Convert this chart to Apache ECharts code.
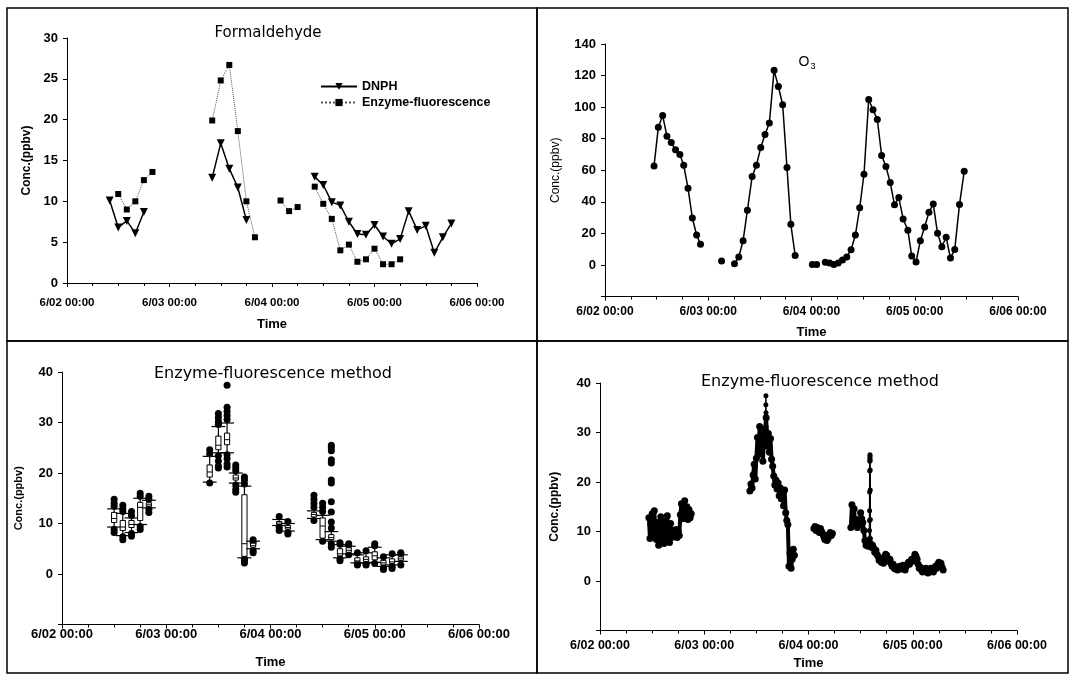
<!DOCTYPE html>
<html>
<head>
<meta charset="utf-8">
<title>Formaldehyde / O3</title>
<script src="https://cdn.jsdelivr.net/npm/echarts@6/dist/echarts.min.js"></script>
<style>
  html, body { margin: 0; padding: 0; background: #fff; }
  #chart { width: 1074px; height: 675px; }
</style>
</head>
<body>
<div id="chart"></div>
<script>
// all x values are hours after 6/02 00:00
const dayLabels = ['6/02 00:00', '6/03 00:00', '6/04 00:00', '6/05 00:00', '6/06 00:00'];

// panel 1 - DNPH
const dnphHours1 = [10, 12, 14, 16, 18];
const dnph1 = [10.1, 6.8, 7.6, 6.1, 8.7];
const dnphHours2 = [34, 36, 38, 40, 42];
const dnph2 = [12.9, 17.1, 14.0, 11.7, 7.7];
const dnphHours3 = [58, 60, 62, 64, 66, 68, 70, 72, 74, 76, 78, 80, 82, 84, 86, 88, 90];
const dnph3 = [13.0, 12.0, 9.9, 9.5, 7.5, 6.0, 5.9, 7.1, 5.7, 4.8, 5.4, 8.8, 6.5, 7.0, 3.7, 5.6, 7.3];

// panel 1 - Enzyme-fluorescence
const enzHours1 = [12, 14, 16, 18, 20];
const enz1 = [10.9, 9.0, 10.0, 12.6, 13.6];
const enzHours2 = [34, 36, 38, 40, 42, 44];
const enz2 = [19.9, 24.8, 26.7, 18.6, 10.0, 5.6];
const enzHours3 = [50, 52, 54];
const enz3 = [10.1, 8.8, 9.3];
const enzHours4 = [58, 60, 62, 64, 66, 68, 70, 72, 74, 76, 78];
const enz4 = [11.8, 9.7, 7.85, 4.0, 4.7, 2.6, 2.9, 4.2, 2.3, 2.3, 2.9];

// panel 2 - O3
const o3Hours1 = [11.4, 12.4, 13.4, 14.4, 15.4, 16.4, 17.4, 18.3, 19.3, 20.3, 21.3, 22.2];
const o3Vals1 = [62.8, 87.3, 94.7, 81.6, 77.6, 73.0, 70.0, 63.2, 48.6, 29.8, 19.0, 13.1];
const o3Hours2 = [27.1];
const o3Vals2 = [2.5];
const o3Hours3 = [30.1, 31.1, 32.1, 33.1, 34.2, 35.2, 36.2, 37.2, 38.2, 39.3, 40.3, 41.3, 42.3, 43.2, 44.2];
const o3Vals3 = [0.8, 5.1, 15.4, 34.7, 56.0, 63.2, 74.4, 82.7, 89.9, 123.3, 113.1, 101.5, 61.7, 25.8, 6.1];
const o3Hours4 = [48.2, 49.2];
const o3Vals4 = [0.4, 0.4];
const o3Hours5 = [51.2, 52.2, 53.2, 54.2, 55.2, 56.2, 57.2, 58.2, 59.2, 60.2, 61.3, 62.3, 63.3, 64.3, 65.3, 66.3,
  67.3, 68.3, 69.3, 70.4, 71.3, 72.3, 73.3, 74.3, 75.3, 76.3, 77.3, 78.3, 79.3, 80.3, 81.3, 82.4, 83.5];
const o3Vals5 = [1.7, 1.3, 0.4, 1.3, 3.2, 5.1, 9.7, 19.0, 36.2, 57.5, 104.9, 98.3, 92.2, 69.4, 62.4, 52.2,
  38.1, 42.7, 29.2, 22.0, 5.7, 1.9, 15.4, 24.1, 33.4, 38.7, 20.1, 11.6, 17.6, 4.4, 9.9, 38.3, 59.4];

// panel 3 - 2 h boxes: [hour, low, q1, median, q3, high]
const boxStats = [
  [12, 9.3, 10.2, 11.0, 12.2, 12.9], [14, 7.6, 8.6, 9.3, 10.6, 12.0], [16, 8.2, 9.2, 9.8, 10.6, 11.1],
  [18, 9.8, 10.6, 13.2, 14.2, 15.0], [20, 13.1, 13.4, 13.7, 14.1, 14.6],
  [34, 18.2, 19.2, 20.2, 21.6, 23.3], [36, 24.0, 24.6, 25.5, 27.3, 29.2], [38, 24.0, 25.6, 26.6, 27.9, 29.9],
  [40, 18.0, 18.6, 19.0, 19.6, 20.0], [42, 3.2, 3.5, 6.0, 15.7, 17.4], [44, 5.0, 5.3, 5.6, 6.1, 6.5],
  [50, 9.6, 9.8, 10.1, 10.4, 10.8], [52, 8.5, 8.9, 9.2, 9.6, 10.0],
  [58, 11.0, 11.3, 11.8, 12.2, 12.5], [60, 6.8, 7.1, 9.5, 11.1, 11.6], [62, 6.5, 6.8, 7.2, 7.8, 8.4],
  [64, 3.2, 3.6, 4.0, 5.0, 5.8], [66, 4.0, 4.3, 4.7, 5.2, 5.5], [68, 2.2, 2.4, 2.6, 3.2, 3.8],
  [70, 2.2, 2.5, 2.9, 3.4, 4.2], [72, 2.3, 2.8, 3.6, 4.4, 5.3], [74, 1.5, 1.8, 2.2, 2.7, 3.2],
  [76, 1.8, 2.1, 2.4, 3.0, 3.8], [78, 2.5, 2.7, 3.0, 3.4, 3.8]
];
// panel 3 - points outside the whiskers: [hour, value]
const boxDots = [
  [12, 14.8], [12, 14.0], [12, 13.4], [12, 8.8], [12, 8.2],
  [14, 13.6], [14, 12.9], [14, 12.4], [14, 7.4], [14, 6.8],
  [16, 12.4], [16, 11.6], [16, 8.0], [16, 7.5],
  [18, 16.0], [18, 15.4], [18, 9.4], [18, 8.8],
  [20, 15.4], [20, 14.8], [20, 12.8], [20, 12.2],
  [34, 24.6], [34, 23.8], [34, 18.0],
  [36, 31.8], [36, 31.0], [36, 30.2], [36, 29.6], [36, 23.4], [36, 22.4], [36, 21.4], [36, 21.0],
  [38, 37.4], [38, 33.0], [38, 32.2], [38, 31.4], [38, 30.6], [38, 23.6], [38, 22.8], [38, 21.8], [38, 21.2],
  [40, 21.6], [40, 21.0], [40, 20.4], [40, 17.6], [40, 16.8], [40, 16.2],
  [42, 19.2], [42, 18.6], [42, 17.8], [42, 3.0], [42, 2.6], [42, 2.2],
  [44, 6.8], [44, 6.2], [44, 4.6], [44, 4.2],
  [50, 11.4], [50, 9.2], [50, 8.6], [52, 10.4], [52, 8.2], [52, 7.9],
  [58, 15.6], [58, 14.8], [58, 14.0], [58, 13.2], [58, 10.6],
  [60, 14.0], [60, 13.2], [60, 12.4], [60, 6.5],
  [62, 25.5], [62, 25.0], [62, 24.4], [62, 22.6], [62, 22.0], [62, 18.6], [62, 18.0], [62, 14.3],
  [62, 12.3], [62, 10.3], [62, 9.1], [62, 6.0], [62, 5.3],
  [64, 6.2], [64, 5.9], [64, 3.0], [64, 2.6], [66, 6.0], [66, 5.7], [66, 3.8],
  [68, 4.2], [68, 2.0], [68, 1.8], [70, 4.6], [70, 2.0], [70, 1.8],
  [72, 6.0], [72, 5.6], [72, 2.1], [74, 3.4], [74, 1.2], [74, 0.9],
  [76, 4.0], [76, 1.5], [76, 1.1], [78, 4.2], [78, 4.0], [78, 1.8]
];

// panel 4 - continuous record, 15 min apart inside each run
const fluoStep = 0.25;
const fluoStarts = [11.25, 34.5, 49.25, 57.75];
const fluo1 = [12.8, 8.6, 11.4, 13.6, 9.2, 14.2, 10.4, 8.4, 11.8, 7.2, 9.6, 13.0, 8.0, 10.8, 7.6, 12.0,
  8.6, 13.2, 9.4, 7.8, 11.6, 8.8, 10.2, 9.0, 9.4, 10.4, 8.8, 10.0, 9.2, 13.4, 15.6, 12.6,
  14.8, 16.2, 13.2, 15.0, 12.4, 14.4, 12.8, 13.6];
const fluo2 = [18.2, 19.6, 18.8, 21.4, 23.6, 20.6, 24.8, 29.0, 25.6, 31.2, 27.4, 29.6, 24.2, 28.4,
  30.6, 33.0, 27.2, 29.8, 26.0, 28.8, 24.6, 23.2, 21.2, 19.4, 20.4, 18.6, 19.8, 17.2, 18.8, 16.6,
  17.8, 15.2, 18.4, 13.8, 12.2, 11.4, 3.0, 5.6, 2.6, 4.4, 6.4, 5.2];
const fluo3 = [10.6, 11.0, 10.2, 10.8, 10.4, 9.8, 10.6, 10.0, 9.6, 9.0, 8.4, 8.8, 8.2, 8.6, 9.4, 9.8, 9.2, 9.6];
const fluo4 = [10.8, 15.4, 12.2, 14.6, 11.2, 12.4, 10.8, 12.0, 11.4, 13.8, 12.6, 11.8, 10.2, 8.2, 7.2, 7.8, 7.0,
  7.4, 7.6, 6.8, 7.2, 6.6, 5.8, 6.2, 5.4, 5.0, 4.2, 4.6, 3.8, 4.4, 3.6, 4.8, 5.4, 5.2, 4.6, 4.0, 4.4,
  3.6, 3.0, 3.4, 2.6, 2.4, 2.8, 2.2, 2.6, 3.0, 2.4, 2.8, 3.2, 2.6, 2.2, 3.0, 3.4, 3.8, 3.4, 4.0, 4.4,
  4.0, 4.6, 5.4, 5.0, 4.4, 3.4, 2.6, 2.8, 2.2, 1.8, 2.4, 2.0, 2.6, 2.2, 1.6, 2.4, 2.0, 2.6, 2.2, 1.8,
  2.4, 3.0, 2.6, 3.4, 3.8, 3.2, 3.6, 2.8, 2.2];
// two short bursts, 1 min apart
const spikeStep = 1 / 60;
const spikeStarts = [38.15, 62.0];
const spike1 = [30.8, 33.2, 35.6, 37.4, 34.0, 31.2];
const spike2 = [7.2, 8.6, 10.2, 12.2, 14.2, 18.0, 22.2, 24.2, 24.8, 25.5, 25.2, 24.4, 22.4, 18.4, 12.4, 8.6, 7.4];

const zip = (xs, ys) => xs.map((x, i) => [x, ys[i]]);
const run = (start, step, vals) => vals.map((v, i) => [start + i * step, v]);

const font = 'Liberation Sans';
const chart = echarts.init(document.getElementById('chart'));

function xAxisFor (i, nameGap, labelSize, labelMargin) {
  return {
    type: 'value',
    gridIndex: i,
    min: 0,
    max: 96,
    interval: 24,
    axisLine: { onZero: false, lineStyle: { color: '#000', width: 1 } },
    axisTick: { length: 4, lineStyle: { color: '#000' } },
    minorTick: { show: true, splitNumber: 4, length: 3, lineStyle: { color: '#000' } },
    splitLine: { show: false },
    axisLabel: {
      formatter: v => dayLabels[v / 24],
      color: '#000', fontFamily: font, fontWeight: 'bold', fontSize: labelSize, margin: labelMargin
    },
    name: 'Time',
    nameLocation: 'middle',
    nameGap: nameGap,
    nameTextStyle: { color: '#000', fontFamily: font, fontWeight: 'bold', fontSize: 13 }
  }
}

function yAxisFor (i, min, max, step, nameGap, nameSize, nameWeight, labelSize) {
  return {
    type: 'value',
    gridIndex: i,
    min: min,
    max: max,
    interval: step,
    axisLine: { show: true, onZero: false, lineStyle: { color: '#000', width: 1 } },
    axisTick: { show: true, length: 4, lineStyle: { color: '#000' } },
    splitLine: { show: false },
    axisLabel: {
      formatter: v => (v < 0 ? '' : String(v)),
      color: '#000', fontFamily: font, fontWeight: 'bold', fontSize: labelSize, margin: 9
    },
    name: 'Conc.(ppbv)',
    nameLocation: 'middle',
    nameRotate: 90,
    nameGap: nameGap,
    nameTextStyle: { color: '#000', fontFamily: font, fontWeight: nameWeight, fontSize: nameSize }
  }
}

const series = []

function addLine (name, grid, data, opts) {
  series.push(Object.assign({
    type: 'line',
    name: name,
    xAxisIndex: grid,
    yAxisIndex: grid,
    data: data,
    symbol: 'circle',
    symbolSize: 7,
    itemStyle: { color: '#000', opacity: 1 },
    lineStyle: { color: '#000', width: 1.5 }
  }, opts))
}

// panel 1
const dnphStyle = { symbol: 'triangle', symbolRotate: 180, symbolSize: 8 }
addLine('DNPH', 0, zip(dnphHours1, dnph1), dnphStyle)
addLine('DNPH', 0, zip(dnphHours2, dnph2), dnphStyle)
addLine('DNPH', 0, zip(dnphHours3, dnph3), dnphStyle)
const enzStyle = { symbol: 'rect', symbolSize: 6, lineStyle: { color: '#555', width: 1, type: 'dotted' } }
addLine('Enzyme-fluorescence', 0, zip(enzHours1, enz1), enzStyle)
addLine('Enzyme-fluorescence', 0, zip(enzHours2, enz2), enzStyle)
addLine('Enzyme-fluorescence', 0, zip(enzHours3, enz3), enzStyle)
addLine('Enzyme-fluorescence', 0, zip(enzHours4, enz4), enzStyle)

// panel 2
addLine('O3', 1, zip(o3Hours1, o3Vals1), {})
addLine('O3', 1, zip(o3Hours2, o3Vals2), {})
addLine('O3', 1, zip(o3Hours3, o3Vals3), {})
addLine('O3', 1, zip(o3Hours4, o3Vals4), {})
addLine('O3', 1, zip(o3Hours5, o3Vals5), {})

// panel 3
series.push({
  type: 'scatter',
  name: 'dots',
  xAxisIndex: 2,
  yAxisIndex: 2,
  data: boxDots,
  symbol: 'circle',
  symbolSize: 7,
  itemStyle: { color: '#000', opacity: 1 }
})
series.push({
  type: 'custom',
  name: 'boxes',
  xAxisIndex: 2,
  yAxisIndex: 2,
  data: boxStats,
  encode: { x: 0, y: [1, 2, 3, 4, 5] },
  z: 5,
  renderItem (params, api) {
    const t = api.value(0)
    const lo = api.coord([t, api.value(1)])
    const q1 = api.coord([t, api.value(2)])
    const md = api.coord([t, api.value(3)])
    const q3 = api.coord([t, api.value(4)])
    const hi = api.coord([t, api.value(5)])
    const hour = api.size([1, 0])[0]
    const bw = hour * 0.6
    const cw = hour * 1.6
    const x = lo[0]
    const ink = { stroke: '#000', lineWidth: 1.2 }
    return {
      type: 'group',
      children: [
        { type: 'line', shape: { x1: x, y1: lo[1], x2: x, y2: hi[1] }, style: ink },
        { type: 'line', shape: { x1: x - cw, y1: lo[1], x2: x + cw, y2: lo[1] }, style: ink },
        { type: 'line', shape: { x1: x - cw, y1: hi[1], x2: x + cw, y2: hi[1] }, style: ink },
        { type: 'rect', shape: { x: x - bw, y: q3[1], width: bw * 2, height: q1[1] - q3[1] }, style: { fill: '#fff', stroke: '#000', lineWidth: 1 } },
        { type: 'line', shape: { x1: x - bw, y1: md[1], x2: x + bw, y2: md[1] }, style: { stroke: '#000', lineWidth: 1 } }
      ]
    }
  }
})

// panel 4
const fluoRuns = [fluo1, fluo2, fluo3, fluo4]
fluoRuns.forEach((vals, i) => {
  addLine('fluo', 3, run(fluoStarts[i], fluoStep, vals), { symbolSize: 7, lineStyle: { color: '#000', width: 4 } })
})
addLine('fluo', 3, run(spikeStarts[0], spikeStep, spike1), { symbolSize: 5, lineStyle: { color: '#000', width: 1.5 } })
addLine('fluo', 3, run(spikeStarts[1], spikeStep, spike2), { symbolSize: 5, lineStyle: { color: '#000', width: 1.5 } })

const border = { fill: 'none', stroke: '#000', lineWidth: 1.5 }
const titleFont = 'DejaVu Sans'

const options = {
  animation: false,
  backgroundColor: '#fff',
  grid: [
    { left: 67, top: 38, width: 410, height: 245 },
    { left: 605, top: 44, width: 413, height: 252.6 },
    { left: 62, top: 372, width: 417, height: 252.5 },
    { left: 600, top: 383, width: 417, height: 247.5 }
  ],
  xAxis: [
    xAxisFor(0, 35, 11.5, 14),
    xAxisFor(1, 29, 12, 9),
    xAxisFor(2, 31, 13, 3),
    xAxisFor(3, 26, 12.5, 9)
  ],
  yAxis: [
    yAxisFor(0, 0, 30, 5, 34, 12, 'bold', 13),
    yAxisFor(1, -20, 140, 20, 43, 12, 'normal', 13),
    yAxisFor(2, -10, 40, 10, 38, 11, 'bold', 13),
    yAxisFor(3, -10, 40, 10, 39, 12, 'bold', 13)
  ],
  legend: {
    data: ['DNPH', 'Enzyme-fluorescence'],
    orient: 'vertical',
    left: 315,
    top: 75,
    itemWidth: 36,
    itemHeight: 9,
    itemGap: 3,
    textStyle: { color: '#000', fontFamily: font, fontWeight: 'bold', fontSize: 12.5 }
  },
  graphic: [
    { type: 'rect', shape: { x: 7, y: 8, width: 530, height: 333 }, style: border },
    { type: 'rect', shape: { x: 537, y: 8, width: 531, height: 333 }, style: border },
    { type: 'rect', shape: { x: 7, y: 341, width: 530, height: 332 }, style: border },
    { type: 'rect', shape: { x: 537, y: 341, width: 531, height: 332 }, style: border },
    { type: 'text', x: 268, y: 33, style: { text: 'Formaldehyde', font: '15px "' + titleFont + '"', fill: '#000', textAlign: 'center', textVerticalAlign: 'middle' } },
    {
      type: 'text', x: 807, y: 62,
      style: {
        text: '{a|O}{b|3}', fill: '#000', textAlign: 'center', textVerticalAlign: 'middle',
        rich: {
          a: { fontFamily: font, fontSize: 14, lineHeight: 18 },
          b: { fontFamily: font, fontSize: 9, lineHeight: 18, verticalAlign: 'bottom', padding: [7, 0, 0, 1] }
        }
      }
    },
    { type: 'text', x: 273, y: 374, style: { text: 'Enzyme-fluorescence method', font: '16px "' + titleFont + '"', fill: '#000', textAlign: 'center', textVerticalAlign: 'middle' } },
    { type: 'text', x: 820, y: 382, style: { text: 'Enzyme-fluorescence method', font: '16px "' + titleFont + '"', fill: '#000', textAlign: 'center', textVerticalAlign: 'middle' } }
  ],
  series: series
}

chart.setOption(options)
</script>
</body>
</html>
